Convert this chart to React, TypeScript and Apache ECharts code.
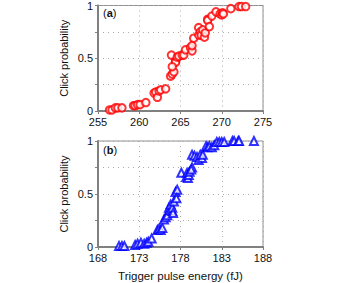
import React, { useEffect, useRef } from "react";
import * as echarts from "echarts";

const xTicksA = [255, 275];
const xTicksB = [168, 188];
const yLabels = ["0", "0.5", "1"];

const dataA: [number, number][] = [
  [256.4, 0.01], [256.7, 0.01], [257.1, 0.03], [257.4, 0.03], [257.9, 0.03],
  [259.3, 0.05], [259.5, 0.05], [259.8, 0.06], [260.1, 0.06], [260.8, 0.08],
  [261.8, 0.17], [262.0, 0.18], [262.2, 0.13], [262.4, 0.19], [262.6, 0.2],
  [263.2, 0.21], [263.8, 0.33], [264.0, 0.35], [264.2, 0.37], [263.9, 0.53],
  [264.4, 0.47], [264.4, 0.46], [264.6, 0.51], [264.0, 0.42], [264.8, 0.52],
  [265.2, 0.53], [265.4, 0.53], [265.6, 0.58], [266.2, 0.6], [266.4, 0.57],
  [266.4, 0.62], [266.6, 0.69], [267.2, 0.72], [267.2, 0.79], [267.4, 0.75],
  [267.5, 0.72], [267.7, 0.77], [267.9, 0.7], [268.0, 0.74], [268.3, 0.87],
  [268.3, 0.86], [268.5, 0.8], [268.8, 0.9], [269.3, 0.94], [269.8, 0.92],
  [270.0, 0.91], [270.1, 0.93], [270.2, 0.92], [271.1, 0.97], [272.1, 0.99],
  [272.4, 0.99], [272.9, 0.99],
];

const dataB: [number, number][] = [
  [170.55, 0.01], [170.9, 0.01], [171.2, 0.01], [172.5, 0.02], [172.8, 0.03],
  [173.2, 0.04], [173.6, 0.03], [173.9, 0.04], [174.1, 0.05], [174.5, 0.08],
  [175.2, 0.16], [175.4, 0.17], [175.6, 0.16], [175.8, 0.18], [176.0, 0.26],
  [176.2, 0.28], [176.4, 0.3], [176.6, 0.37], [176.7, 0.35], [176.8, 0.4],
  [177.0, 0.34], [177.0, 0.37], [177.1, 0.32], [177.2, 0.43], [177.4, 0.52],
  [177.6, 0.54], [177.5, 0.46], [178.1, 0.7], [178.7, 0.66], [178.8, 0.7],
  [178.9, 0.65], [179.0, 0.68], [179.1, 0.71], [179.4, 0.75], [179.3, 0.73],
  [179.4, 0.87], [179.7, 0.86], [180.0, 0.85], [180.2, 0.82], [180.4, 0.87],
  [180.6, 0.84], [180.7, 0.87], [181.1, 0.95], [181.3, 0.94], [181.5, 0.95],
  [181.8, 0.94], [182.1, 0.96], [182.4, 0.99], [182.7, 0.99], [183.0, 0.99],
  [183.3, 0.99], [184.3, 1.0], [184.5, 1.0], [185.0, 1.0], [185.1, 1.0],
  [186.9, 1.0],
];

const FONT = "Liberation Sans, Arial, sans-serif";

export default function App() {
  const ref = useRef<HTMLDivElement>(null);
  useEffect(() => {
    if (!ref.current) return;
    const chart = echarts.init(ref.current, undefined, { renderer: "svg" });
    const axisLine = { show: true, onZero: false, lineStyle: { color: "#808080", width: 2 } };
    const axisTick = { show: true, inside: false, length: 3, lineStyle: { color: "#808080", width: 1 } };
    const split = { show: true, lineStyle: { color: "#aaaaaa", type: [1, 4] as any, width: 1 } };
    const xAxis = (idx: number, ticks: number[], name: string) => ({
      type: "value",
      gridIndex: idx,
      min: ticks[0],
      max: ticks[1],
      interval: 5,
      axisLine,
      axisTick,
      splitLine: split,
      axisLabel: {
        color: "#111", fontFamily: FONT, fontSize: 11, lineHeight: 11, margin: 5,
        showMinLabel: true, showMaxLabel: true,
      },
      name,
      nameLocation: "middle",
      nameGap: 23,
      nameTextStyle: { color: "#111", fontFamily: FONT, fontSize: 11.5 },
    });
    const yAxis = (idx: number) => ({
      type: "value",
      gridIndex: idx,
      min: 0,
      max: 1,
      interval: 0.25,
      axisLine,
      axisTick,
      splitLine: split,
      axisLabel: {
        color: "#111",
        fontFamily: FONT,
        fontSize: 11,
        lineHeight: 9,
        margin: 5,
        formatter: (v: number) => (v === 0 ? yLabels[0] : v === 0.5 ? yLabels[1] : v === 1 ? yLabels[2] : ""),
      },
      name: "Click probability",
      nameLocation: "middle",
      nameGap: 29,
      nameTextStyle: { color: "#111", fontFamily: FONT, fontSize: 11 },
    });
    chart.setOption({
      animation: false,
      grid: [
        { left: 98, top: 4, width: 165, height: 107, show: true, borderColor: "#909090", borderWidth: 1, backgroundColor: "transparent" },
        { left: 98, top: 141, width: 165, height: 107, show: true, borderColor: "#909090", borderWidth: 1, backgroundColor: "transparent" },
      ],
      xAxis: [xAxis(0, xTicksA, ""), xAxis(1, xTicksB, "Trigger pulse energy (fJ)")],
      yAxis: [yAxis(0), yAxis(1)],
      graphic: [
        {
          type: "text",
          left: 103,
          top: 7,
          style: {
            text: "({b|a})",
            fontFamily: FONT,
            fontSize: 11,
            fill: "#111",
            rich: { b: { fontWeight: "bold", fontFamily: FONT, fontSize: 11, fill: "#111" } },
          } as any,
        },
        {
          type: "text",
          left: 103,
          top: 144,
          style: {
            text: "({b|b})",
            fontFamily: FONT,
            fontSize: 11,
            fill: "#111",
            rich: { b: { fontWeight: "bold", fontFamily: FONT, fontSize: 11, fill: "#111" } },
          } as any,
        },
      ],
      series: [
        {
          type: "scatter",
          xAxisIndex: 0,
          yAxisIndex: 0,
          data: dataA,
          symbol: "emptyCircle",
          symbolSize: 7.5,
          itemStyle: { color: "#ff0000", borderColor: "#ff0000", borderWidth: 1.1 },
        },
        {
          type: "scatter",
          xAxisIndex: 1,
          yAxisIndex: 1,
          data: dataB,
          symbol: "emptyTriangle",
          symbolSize: 8,
          itemStyle: { color: "#0000ff", borderColor: "#0000ff", borderWidth: 1.1 },
        },
      ],
    });
    return () => chart.dispose();
  }, []);
  return (
    <div
      ref={ref}
      style={{ position: "fixed", left: 0, top: 0, width: 339, height: 283, background: "#fff" }}
    />
  );
}
